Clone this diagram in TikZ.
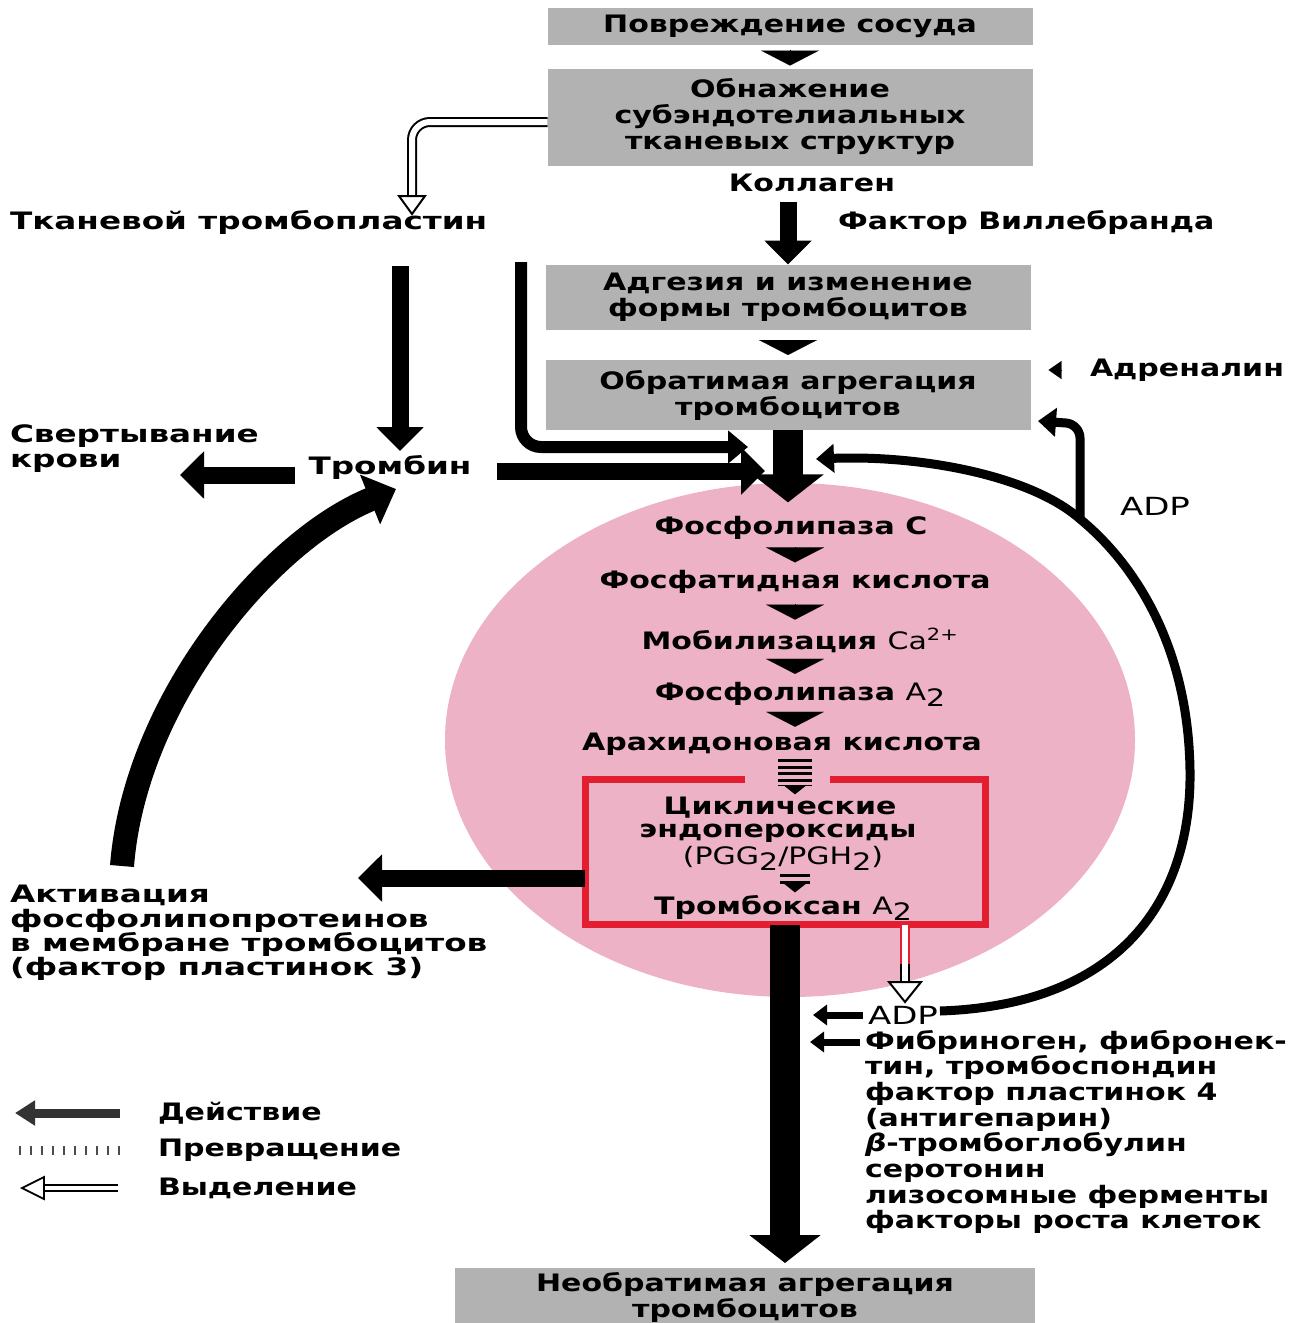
\documentclass[tikz,border=0pt]{standalone}
\usepackage{fontspec}
\setmainfont{DejaVu Sans}[FakeStretch=1.25]
\newfontfamily\widefont{DejaVu Sans}[FakeStretch=1.36]
\usetikzlibrary{arrows.meta,calc}
\definecolor{boxgray}{RGB}{178,178,178}
\definecolor{pinkc}{RGB}{237,178,198}
\definecolor{redc}{RGB}{226,30,48}
\newcommand\lowtwo{\raisebox{-6pt}{2}}
\begin{document}
\begin{tikzpicture}[x=1pt,y=-1pt,
  every node/.style={font=\bfseries\fontsize{24}{26}\selectfont, inner sep=0pt, outer sep=0pt},
  wide/.style={font=\widefont\bfseries\fontsize{24}{25}\selectfont},
  gbox/.style={fill=boxgray, minimum width=485pt, align=center},
  lbl/.style={align=left},
  tri/.style={line width=0.1pt, -{Triangle[length=15pt,width=58pt]}, shorten >=3pt},
  act/.style={line width=17pt, -{Triangle[length=24pt,width=46pt]}},
  big/.style={line width=30pt, -{Triangle[length=28pt,width=70pt]}},
  mid/.style={line width=12pt, -{Triangle[length=20pt,width=32pt]}},
  thinarr/.style={line width=7pt, -{Triangle[length=14pt,width=20pt]}},
  adparr/.style={line width=9pt, -{Triangle[length=18pt,width=28pt]}},
  conv/.style={line width=34pt, dash pattern=on 3pt off 3.5pt, -{Triangle[length=9pt,width=22pt]}, shorten <=4pt, shorten >=3pt},
  hol/.style={double=white, double distance=6pt, line width=2pt},
  ohead/.style={draw, line width=2pt, fill=white, line join=miter},
]
\useasboundingbox (0,0) rectangle (1298,1323);

% platelet (pink)
\fill[pinkc] (790,740) ellipse [x radius=345, y radius=257];

% top boxes
\node[gbox, minimum height=37pt] (b1) at (790,26) {Повреждение сосуда};
\node[gbox, minimum height=97pt] (b2) at (790,117) {Обнажение\\субэндотелиальных\\тканевых структур};
\node (coll) at (812,183) {Коллаген};
\node[anchor=west] (vwf) at (838,222) {Фактор Виллебранда};
\node[wide, anchor=west] (tt) at (10,222) {Тканевой тромбопластин};
\node[gbox, minimum height=65pt] (b3) at (788,297) {Адгезия и изменение\\формы тромбоцитов};
\node[gbox, minimum height=70pt] (b4) at (788,395) {Обратимая агрегация\\тромбоцитов};
\node[anchor=west] (adr) at (1090,370) {Адреналин};
\node[wide] (thr) at (390,467) {Тромбин};
\node[wide, lbl, anchor=west] (sv) at (10,449) {Свертывание\\крови};
\node[anchor=west, font=\widefont\fontsize{25}{26}\selectfont] (adp1) at (1120,506) {ADP};

% inside platelet
\coordinate (tx) at (795,0);
\node (p1) at (791,528) {Фосфолипаза С};
\node (p2) at (795,582) {Фосфатидная кислота};
\node (p3) at (800,640) {Мобилизация {\mdseries Ca\textsuperscript{2+}}};
\node (p4) at (800,694) {Фосфолипаза {\mdseries A\lowtwo}};
\node (p5) at (782,744) {Арахидоновая кислота};

\node[minimum width=400pt, minimum height=145pt] (rb) at (785,852) {};
\draw[redc, line width=7pt, line join=miter] ($(rb.north)+(-40,0)$) -- (rb.north west) -- (rb.south west) -- (rb.south east) -- (rb.north east) -- ($(rb.north)+(45,0)$);
\node (c1) at (780,808) {Циклические};
\node (c2) at (778,833) {эндопероксиды};
\node (c3) at (783,858) {\mdseries (PGG\lowtwo/PGH\lowtwo)};
\node (c4) at (783,908) {Тромбоксан {\mdseries A\lowtwo}};

% left side and bottom texts
\node[wide, lbl, anchor=west, font=\widefont\bfseries\fontsize{24}{24.4}\selectfont] (actv) at (10,933) {Активация\\фосфолипопротеинов\\в мембране тромбоцитов\\(фактор пластинок 3)};
\node[anchor=west, font=\widefont\fontsize{25}{26}\selectfont] (adp2) at (868,1015) {ADP};
\node[lbl, anchor=north west, font=\bfseries\fontsize{24}{25.7}\selectfont] (lst) at (865,1030) {Фибриноген, фибронек-\\тин, тромбоспондин\\фактор пластинок 4\\(антигепарин)\\{\itshape β}-тромбоглобулин\\серотонин\\лизосомные ферменты\\факторы роста клеток};
\node[gbox, minimum width=580pt, minimum height=58pt] (b5) at (745,1297) {Необратимая агрегация\\тромбоцитов};

% legend
\node[anchor=west] (lg1) at (158,1113) {Действие};
\node[anchor=west] (lg2) at (158,1150) {Превращение};
\node[anchor=west] (lg3) at (158,1188) {Выделение};

% coordinates for free ends
\coordinate (svtip) at (180,475);
\coordinate (thrin) at (765,471);
\coordinate (lstart) at (521,262);
\coordinate (lend) at (748,447);
\coordinate (adpin) at (816,459);
\coordinate (junc) at (1080,519);
\coordinate (b4tip) at (1038,421);
\coordinate (acttip) at (358,878);
\coordinate (arcst) at (122,866);
\coordinate (arcend) at (396,489);
\coordinate (h1) at (412,214);
\coordinate (h2) at (905,1002);

% small triangles
\draw[tri, shorten <=5pt] (b1) -- (b2);
\draw[tri, shorten <=11pt, shorten >=5pt] (b3) -- (b4);
\draw[tri, shorten >=8pt, shorten <=10pt] (p1.south -| tx) -- (p2.north -| tx);
\draw[tri, shorten >=8pt, shorten <=10pt] (p2.south -| tx) -- (p3.north -| tx);
\draw[tri, shorten >=8pt, shorten <=8pt] (p3.south -| tx) -- (p4.north -| tx);
\draw[tri, shorten >=6pt, shorten <=6pt] (p4.south -| tx) -- (p5.north -| tx);
\draw[line width=0.1pt, -{Triangle[length=13pt,width=18pt]}, shorten >=18pt, shorten <=28pt] (adr.west) -- (adr.west -| b4.east);

% conversions
\draw[conv] (p5.south -| tx) -- (c1.north -| tx);
\draw[conv, line width=30pt] (c3.south -| tx) -- (c4.north -| tx);

% action arrows
\draw[act] ($(coll.south -| b3.north)+(0,10)$) -- (b3.north);
\draw[act] ($(thr.north |- tt.south)+(10,32)$) -- ($(thr.north)+(10,-4)$);
\draw[act] ($(thr.west)+(-14,8)$) -- (svtip);
\draw[act] ($(thr.east)+(26,4)$) -- (thrin);
\draw[mid, rounded corners=20pt] (lstart) |- (lend);
\draw[big, shorten >=14pt] (b4.south) -- (p1.north -| b4.south);
\draw[big, shorten >=5pt] (rb.south) -- (b5.north -| rb.south);
\draw[act] ($(rb.west)+(0,26)$) -- (acttip);
\draw[line width=24pt, -{Triangle[length=28pt,width=52pt]}] (arcst) .. controls (135,700) and (270,540) .. (arcend);

% ADP feedback
\draw[adparr] ($(adp2.east)+(2,-4)$) .. controls (1120,1005) and (1192,900) .. (1190,770)
  .. controls (1188,640) and (1130,560) .. (junc)
  .. controls (1030,475) and (920,455) .. (adpin);
\draw[adparr, rounded corners=14pt] (junc) -- (1080,424) -- (b4tip);
\draw[thinarr] ($(adp2.west)+(-5,0)$) -- ++(-50,0);
\draw[thinarr] ($(lst.north west)+(-5,12)$) -- ++(-50,0);

% secretion (hollow) arrows
\draw[hol, rounded corners=18pt] ($(b2.west)+(0,5)$) -| ($(h1)+(0,-17)$);
\draw[ohead] ($(h1)+(-13,-18)$) -- ($(h1)+(13,-18)$) -- (h1) -- cycle;
\draw[hol, draw=redc] (rb.south -| h2) -- ($(h2)+(0,-36)$);
\draw[hol] ($(h2)+(0,-38)$) -- ($(h2)+(0,-18)$);
\draw[ohead] ($(h2)+(-16,-20)$) -- ($(h2)+(16,-20)$) -- (h2) -- cycle;

% legend symbols
\coordinate (l1a) at (120,1113); \coordinate (l1b) at (15,1113);
\draw[black!80, line width=9pt, -{Triangle[length=20pt,width=24pt]}] (l1a) -- (l1b);
\coordinate (l2a) at (120,1150); \coordinate (l2b) at (18,1150);
\draw[black!70, line width=9pt, dash pattern=on 2pt off 9pt] (l2a) -- (l2b);
\coordinate (l3a) at (118,1188); \coordinate (l3b) at (22,1188);
\draw[double=white, double distance=4pt, line width=1.8pt] (l3a) -- ($(l3b)+(22,0)$);
\draw[ohead, line width=1.8pt] ($(l3b)+(22,-11)$) -- ($(l3b)+(22,11)$) -- (l3b) -- cycle;
\end{tikzpicture}
\end{document}
